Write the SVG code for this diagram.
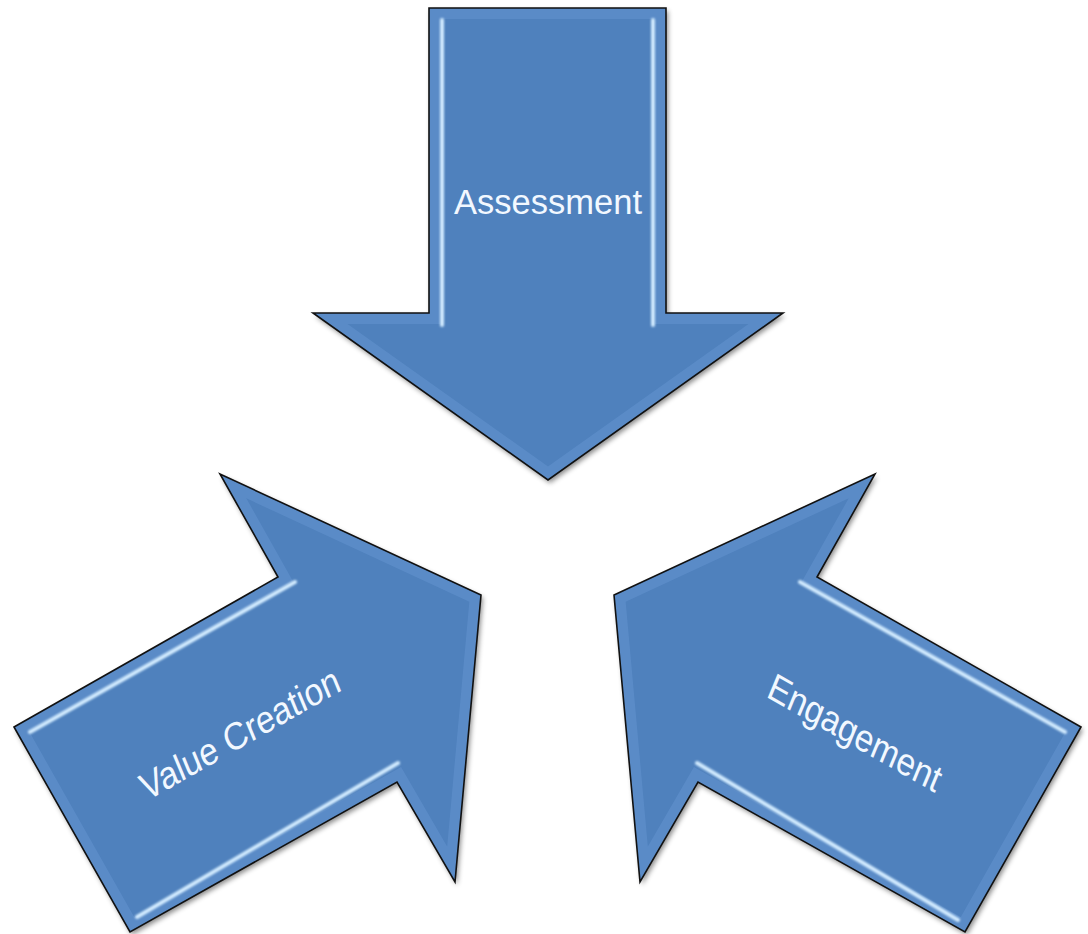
<svg xmlns="http://www.w3.org/2000/svg" xmlns:xlink="http://www.w3.org/1999/xlink" width="1088" height="934" viewBox="0 0 1088 934">
  <defs>
    <style>
      .fill { fill: #4F81BD; }
      .bevel { fill: none; stroke: #6C9BD8; stroke-width: 22; stroke-opacity: 0.4; stroke-linejoin: miter; }
      .edge { fill: none; stroke: #111111; stroke-width: 1.6; stroke-linejoin: miter; }
      .hl { stroke: #D2EBFF; stroke-width: 4; stroke-linecap: round; fill: none; }
      .label { font-family: "Liberation Sans", Arial, sans-serif; font-size: 30px; fill: #F2F8FF; text-anchor: middle; }
      .rot { font-size: 33px; }
    </style>
    <filter id="shadow" x="-10%" y="-10%" width="130%" height="130%">
      <feDropShadow dx="2" dy="3" stdDeviation="2.5" flood-color="#000000" flood-opacity="0.45"/>
    </filter>
    <filter id="soft" x="-10%" y="-10%" width="120%" height="120%">
      <feGaussianBlur stdDeviation="0.8"/>
    </filter>
    <polygon id="pA" points="429,8 666,8 666,313 783,313 548,480 313,313 429,313"/>
    <polygon id="pV" points="14,727 278,577 220,474 481,595 455,882 397,782 130,932"/>
    <polygon id="pE" points="1081,727 817,577 875,474 614,595 640,882 698,782 965,932"/>
    <clipPath id="cA"><use xlink:href="#pA"/></clipPath>
    <clipPath id="cV"><use xlink:href="#pV"/></clipPath>
    <clipPath id="cE"><use xlink:href="#pE"/></clipPath>
  </defs>

  <rect width="1088" height="934" fill="#FFFFFF"/>

  <g id="connectors"/>

  <g id="arrow-assessment">
    <use xlink:href="#pA" class="fill" filter="url(#shadow)"/>
    <g clip-path="url(#cA)">
      <use xlink:href="#pA" class="bevel"/>
      <g filter="url(#soft)">
        <line class="hl" x1="442" y1="20" x2="442" y2="325"/>
        <line class="hl" x1="653" y1="20" x2="653" y2="325"/>
      </g>
    </g>
    <use xlink:href="#pA" class="edge"/>
    <text class="label" transform="translate(548,214) scale(1,1.17)" x="0" y="0" textLength="188" lengthAdjust="spacingAndGlyphs">Assessment</text>
  </g>

  <g id="arrow-value-creation">
    <use xlink:href="#pV" class="fill" filter="url(#shadow)"/>
    <g clip-path="url(#cV)">
      <use xlink:href="#pV" class="bevel"/>
      <g filter="url(#soft)">
        <line class="hl" x1="30" y1="732" x2="295" y2="582"/>
        <line class="hl" x1="137" y1="917" x2="398" y2="763"/>
      </g>
    </g>
    <use xlink:href="#pV" class="edge"/>
    <text class="label rot" transform="translate(240,734) scale(1,1.17) rotate(-25.9)" x="0" y="11" textLength="218" lengthAdjust="spacingAndGlyphs">Value Creation</text>
  </g>

  <g id="arrow-engagement">
    <use xlink:href="#pE" class="fill" filter="url(#shadow)"/>
    <g clip-path="url(#cE)">
      <use xlink:href="#pE" class="bevel"/>
      <g filter="url(#soft)">
        <line class="hl" x1="800" y1="582" x2="1065" y2="732"/>
        <line class="hl" x1="697" y1="763" x2="958" y2="920"/>
      </g>
    </g>
    <use xlink:href="#pE" class="edge"/>
    <text class="label rot" transform="translate(855,733) scale(1,1.17) rotate(25.9)" x="0" y="11" textLength="189" lengthAdjust="spacingAndGlyphs">Engagement</text>
  </g>
</svg>
